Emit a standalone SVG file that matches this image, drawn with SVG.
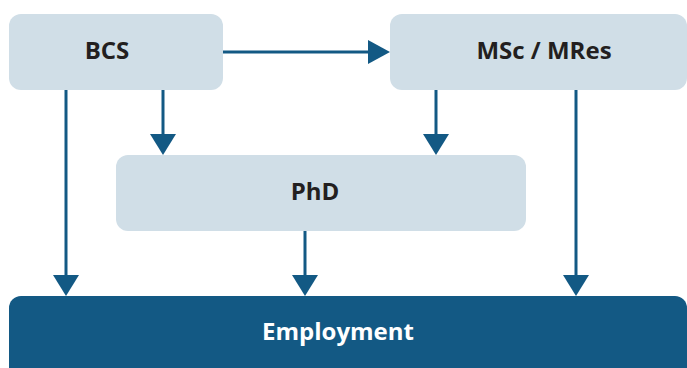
<svg xmlns="http://www.w3.org/2000/svg" width="687" height="368" viewBox="0 0 687 368">
<defs>
<style>
.box{fill:#d0dee7}
.emp{fill:#135984}
.lbl{font-family:"Open Sans","Liberation Sans",sans-serif;font-weight:bold;font-size:24px;fill:#231f20;text-anchor:middle}
.wl{fill:#ffffff}
.c{stroke:#135984;stroke-width:3;fill:none}
.h{fill:#135984}
</style>
</defs>
<rect width="687" height="368" fill="#ffffff"/>
<g id="connectors">
<line class="c" x1="223" y1="52" x2="370" y2="52"/>
<polygon class="h" points="368,40 390,52 368,64"/>
<line class="c" x1="66" y1="90" x2="66" y2="277"/>
<polygon class="h" points="53,275 79,275 66,296"/>
<line class="c" x1="163" y1="90" x2="163" y2="136"/>
<polygon class="h" points="150,134 176,134 163,155"/>
<line class="c" x1="436" y1="90" x2="436" y2="136"/>
<polygon class="h" points="423,134 449,134 436,155"/>
<line class="c" x1="576" y1="90" x2="576" y2="277"/>
<polygon class="h" points="563,275 589,275 576,296"/>
<line class="c" x1="305" y1="231" x2="305" y2="277"/>
<polygon class="h" points="292,275 318,275 305,296"/>
</g>
<g id="node-bcs">
<rect class="box" x="9" y="14" width="214" height="76" rx="12"/>
<text class="lbl" x="107" y="59">BCS</text>
</g>
<g id="node-msc">
<rect class="box" x="390" y="14" width="297" height="76" rx="12"/>
<text class="lbl" x="544" y="59">MSc / MRes</text>
</g>
<g id="node-phd">
<rect class="box" x="116" y="155" width="410" height="76" rx="12"/>
<text class="lbl" x="315" y="200">PhD</text>
</g>
<g id="node-employment">
<rect class="emp" x="9" y="296" width="678" height="90" rx="12"/>
<text class="lbl wl" x="338" y="340">Employment</text>
</g>
</svg>
